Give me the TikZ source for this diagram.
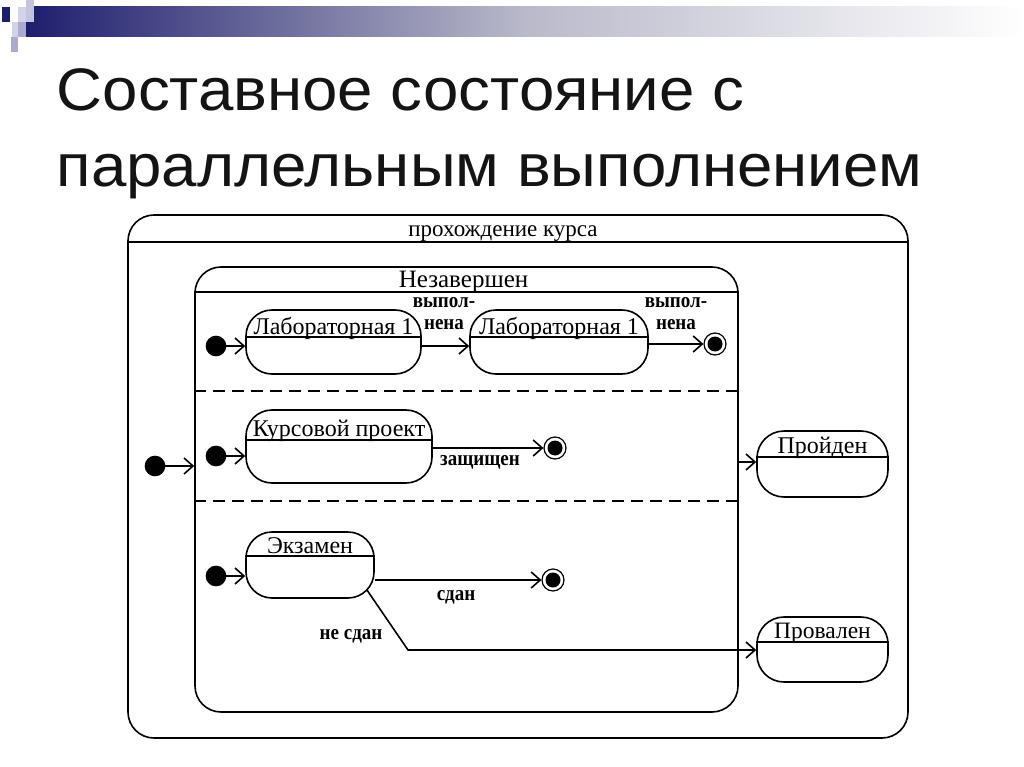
\documentclass[tikz,border=0pt]{standalone}
\usepackage{fontspec}
\usepackage{graphicx}
\setmainfont{Liberation Serif}
\newfontfamily\titlefont{Liberation Sans}
\usetikzlibrary{arrows.meta}
\definecolor{navy}{RGB}{30,30,110}
\definecolor{lav}{RGB}{170,170,210}
\definecolor{lavlight}{RGB}{210,210,235}
\definecolor{titlegray}{RGB}{20,20,20}
\newcommand{\vstr}[1]{\scalebox{1}[1.12]{#1}}
\newcommand{\wtitle}[1]{\scalebox{1.06}[1]{#1}}
\begin{document}
\begin{tikzpicture}[x=1pt,y=-1pt,line width=1.6pt,
  stbox/.style={draw,rounded corners=26pt,inner sep=0pt},
  stname/.style={inner sep=0pt,anchor=base,font=\fontsize{24}{26}\selectfont},
  lbl/.style={inner sep=0pt,font=\bfseries\fontsize{19}{22}\selectfont,align=center},
  initdot/.style={circle,fill=black,draw=black,minimum size=19pt,inner sep=0pt},
  finaldot/.style={circle,draw=black,line width=1.2pt,minimum size=22pt,inner sep=0pt,
     path picture={\fill[black] (path picture bounding box.center) circle (7.5pt);}},
  arr/.style={-{Straight Barb[length=9pt,width=16pt,line width=1.6pt]}}]
\useasboundingbox (0,0) rectangle (1024,767);
% header decoration
\shade[left color=navy,right color=white,middle color=lavlight!70!gray] (26,7) rectangle (1024,37);
\fill[navy] (2,7) rectangle (10,22);
\fill[lavlight] (18,7) rectangle (26,22);
\fill[lav!70] (26,0) rectangle (34,22);
\fill[lavlight] (12,22) rectangle (18,37);
\fill[lav] (18,22) rectangle (26,37);
\fill[lav] (11,37) rectangle (18,52);
% title
\node[anchor=base west,inner sep=0pt,text=titlegray,font=\titlefont\fontsize{60}{64}\selectfont] (t1) at (56,111) {\wtitle{Составное состояние с}};
\node[anchor=base west,inner sep=0pt,text=titlegray,font=\titlefont\fontsize{60}{64}\selectfont] (t2) at (56,187) {\wtitle{параллельным выполнением}};
% outer composite
\node[stbox,rounded corners=26pt,minimum width=780pt,minimum height=523pt] (course) at (518,476.5) {};
\draw ([yshift=-28pt]course.north west) -- ([yshift=-28pt]course.north east);
\node[stname,font=\fontsize{23}{25}\selectfont] (courset) at ([xshift=-15pt,yshift=-22pt]course.north) {прохождение курса};
% inner composite
\node[stbox,rounded corners=26pt,minimum width=543pt,minimum height=445pt] (inner) at (466.5,489.5) {};
\draw ([yshift=-26pt]inner.north west) -- ([yshift=-26pt]inner.north east);
\node[stname,font=\fontsize{25}{27}\selectfont] (innert) at ([xshift=-3pt,yshift=-21pt]inner.north) {Незавершен};
\draw[dash pattern=on 12pt off 7pt] (inner.west |- 0,391) -- (inner.east |- 0,391);
\draw[dash pattern=on 12pt off 7pt] (inner.west |- 0,501) -- (inner.east |- 0,501);
% region 1
\node[initdot] (i1) at (216,346) {};
\node[stbox,minimum width=175pt,minimum height=64pt] (lab1) at (333.5,342) {};
\draw ([yshift=-28pt]lab1.north west) -- ([yshift=-28pt]lab1.north east);
\node[stname] (lab1t) at ([yshift=-25pt]lab1.north) {Лабораторная 1};
\node[stbox,minimum width=178pt,minimum height=64pt] (lab2) at (559,342) {};
\draw ([yshift=-28pt]lab2.north west) -- ([yshift=-28pt]lab2.north east);
\node[stname] (lab2t) at ([yshift=-25pt]lab2.north) {Лабораторная 1};
\node[finaldot] (f1) at (715,344) {};
\draw[arr] (i1) -- (i1 -| lab1.west);
\draw[arr] (lab1.east |- i1) -- (lab2.west |- i1);
\draw[arr] (lab2.east |- f1) -- (f1);
\node[lbl] (l1) at (444,314) {\vstr{выпол-}\\\vstr{нена}};
\node[lbl] (l2) at (676,314) {\vstr{выпол-}\\\vstr{нена}};
% region 2
\node[initdot] (i2) at (216,456) {};
\node[stbox,minimum width=186pt,minimum height=73pt] (kp) at (339,446.5) {};
\draw ([yshift=-31pt]kp.north west) -- ([yshift=-31pt]kp.north east);
\node[stname] (kpt) at ([yshift=-27pt]kp.north) {Курсовой проект};
\node[finaldot] (f2) at (555,448) {};
\draw[arr] (i2) -- (i2 -| kp.west);
\draw[arr] (kp.east |- f2) -- (f2);
\node[lbl] (l3) at (480,462) {\vstr{защищен}};
% region 3
\node[initdot] (i3) at (216,576) {};
\node[stbox,minimum width=128pt,minimum height=66pt] (ex) at (310,565) {};
\draw ([yshift=-25pt]ex.north west) -- ([yshift=-25pt]ex.north east);
\node[stname] (ext) at ([yshift=-22pt]ex.north) {Экзамен};
\node[finaldot] (f3) at (553,580) {};
\draw[arr] (i3) -- (i3 -| ex.west);
\draw[arr] (ex.east |- f3) -- (f3);
\node[lbl] (l4) at (456,597) {\vstr{сдан}};
% outer initial and targets
\node[initdot] (i0) at (155,466) {};
\draw[arr] (i0) -- (i0 -| inner.west);
\node[stbox,rounded corners=27pt,minimum width=131pt,minimum height=66pt] (pass) at (822.5,464) {};
\draw ([yshift=-27pt]pass.north west) -- ([yshift=-27pt]pass.north east);
\node[stname] (passt) at ([yshift=-23pt]pass.north) {Пройден};
\node[stbox,rounded corners=27pt,minimum width=131pt,minimum height=65pt] (fail) at (822.5,649.5) {};
\draw ([yshift=-26pt]fail.north west) -- ([yshift=-26pt]fail.north east);
\node[stname,font=\fontsize{23.5}{25}\selectfont] (failt) at ([yshift=-22pt]fail.north) {Провален};
\draw[arr] (inner.east |- 0,462) -- (pass.west |- 0,462);
\coordinate (exstart) at ([xshift=-8pt,yshift=9pt]ex.south east);
\coordinate (bend) at (408,650);
\draw[arr] (exstart) -- (bend) -- (fail.west |- bend);
\node[lbl] (l5) at (351,636) {\vstr{не сдан}};
\end{tikzpicture}
\end{document}
